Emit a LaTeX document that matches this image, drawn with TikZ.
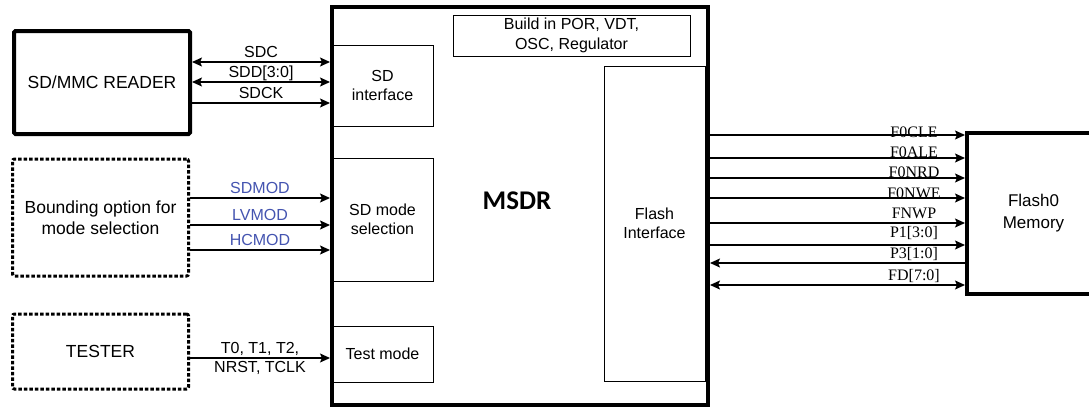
\documentclass[tikz,border=0pt]{standalone}
\usepackage{fontspec}
\setmainfont{Liberation Sans}
\newfontfamily\sigfont{Liberation Serif}
\newfontfamily\titlefont{Carlito}
\usetikzlibrary{arrows.meta,positioning}
\definecolor{modblue}{RGB}{68,84,176}

\begin{document}
\begin{tikzpicture}[x=1pt,y=-1pt,
  >={Stealth[length=10pt,width=9pt,inset=2pt]},
  sig/.style={line width=1.3pt},
  thickbox/.style={draw,line width=4pt,inner sep=0pt},
  dotbox/.style={draw,line width=3pt,dash pattern=on 3.5pt off 2pt,rounded corners=2pt,align=center,font=\fontsize{17.5}{20.5}\selectfont},
  block/.style={draw,line width=0.9pt,align=center,inner sep=0pt,font=\fontsize{16}{19.5}\selectfont},
  lab/.style={anchor=base,yshift=4.5pt,inner sep=0pt,font=\fontsize{16}{18}\selectfont},
  flab/.style={anchor=base,pos=0.8,inner sep=0pt,font=\sigfont\fontsize{16}{18}\selectfont}]
  \useasboundingbox (0,0) rectangle (1089,407);
  \node[thickbox,minimum width=376pt,minimum height=398pt] (msdr) at (520,206) {};
  \node[block,minimum width=101pt,minimum height=81pt] (sdif) at (382.5,85.5) {SD\\interface};
  \node[block,minimum width=101pt,minimum height=123pt] (sdmode) at (382.5,219.5) {SD mode\\selection};
  \node[block,minimum width=101pt,minimum height=56pt] (testmode) at (382.5,354) {Test mode};
  \node[block,minimum width=237pt,minimum height=41pt] (buildin) at (571.5,35.5) {Build in POR, VDT,\\OSC, Regulator};
  \node[block,minimum width=101pt,minimum height=315pt] (flashif) at (654.5,223.5) {Flash\\Interface};
  \node[font=\titlefont\bfseries\fontsize{27}{30}\selectfont] (title) at (517,201) {MSDR};

  \node[thickbox,rounded corners=1.5pt,minimum width=176pt,minimum height=103pt,font=\fontsize{17.5}{20}\selectfont] (reader) at (102,82.5) {SD/MMC READER};
  \node[dotbox,minimum width=176pt,minimum height=117pt] (bounding) at (100.5,217.5) {Bounding option for\\mode selection};
  \node[dotbox,minimum width=176pt,minimum height=75pt] (tester) at (100.5,351.5) {TESTER};
  \node[thickbox,minimum width=133pt,minimum height=161pt,align=center,font=\fontsize{17}{22}\selectfont] (flash) at (1033.5,213.5) {Flash0\\Memory};

  \draw[sig,<->] (reader.east |- 0,62) -- (msdr.west |- 0,62) node[lab,midway] (lsdc) {SDC};
  \draw[sig,<->] (reader.east |- 0,82) -- (msdr.west |- 0,82) node[lab,midway] (lsdd) {SDD[3:0]};
  \draw[sig,->] (reader.east |- 0,103) -- (msdr.west |- 0,103) node[lab,midway] (lsdck) {SDCK};

  \draw[sig,->] (bounding.east |- 0,198) -- (msdr.west |- 0,198) node[lab,midway,text=modblue] (lsdmod) {SDMOD};
  \draw[sig,->] (bounding.east |- 0,225) -- (msdr.west |- 0,225) node[lab,midway,text=modblue] (llvmod) {LVMOD};
  \draw[sig,->] (bounding.east |- 0,250) -- (msdr.west |- 0,250) node[lab,midway,text=modblue] (lhcmod) {HCMOD};

  \draw[sig,->] (tester.east |- 0,358) -- (msdr.west |- 0,358)
    node[lab,midway,yshift=0.5pt] (ltest) {T0, T1, T2,}
    node[lab,midway,yshift=-19pt] (lnrst) {NRST, TCLK};

  \draw[sig,->] (msdr.east |- 0,135) -- (flash.west |- 0,135) node[flab,yshift=-2pt] (lcle) {F0CLE};
  \draw[sig,->] (msdr.east |- 0,158) -- (flash.west |- 0,158) node[flab,yshift=1pt] (lale) {F0ALE};
  \draw[sig,->] (msdr.east |- 0,178) -- (flash.west |- 0,178) node[flab,yshift=1pt] (lnrd) {F0NRD};
  \draw[sig,->] (msdr.east |- 0,198) -- (flash.west |- 0,198) node[flab] (lnwe) {F0NWE};
  \draw[sig,->] (msdr.east |- 0,223) -- (flash.west |- 0,223) node[flab,yshift=5pt] (lnwp) {FNWP};
  \draw[sig,->] (msdr.east |- 0,245) -- (flash.west |- 0,245) node[flab,yshift=7.5pt] (lp1) {P1[3:0]};
  \draw[sig,<-] (msdr.east |- 0,263) -- (flash.west |- 0,263) node[flab,yshift=5pt] (lp3) {P3[1:0]};
  \draw[sig,<->] (msdr.east |- 0,285) -- (flash.west |- 0,285) node[flab,yshift=5pt] (lfd) {FD[7:0]};
\end{tikzpicture}
\end{document}
